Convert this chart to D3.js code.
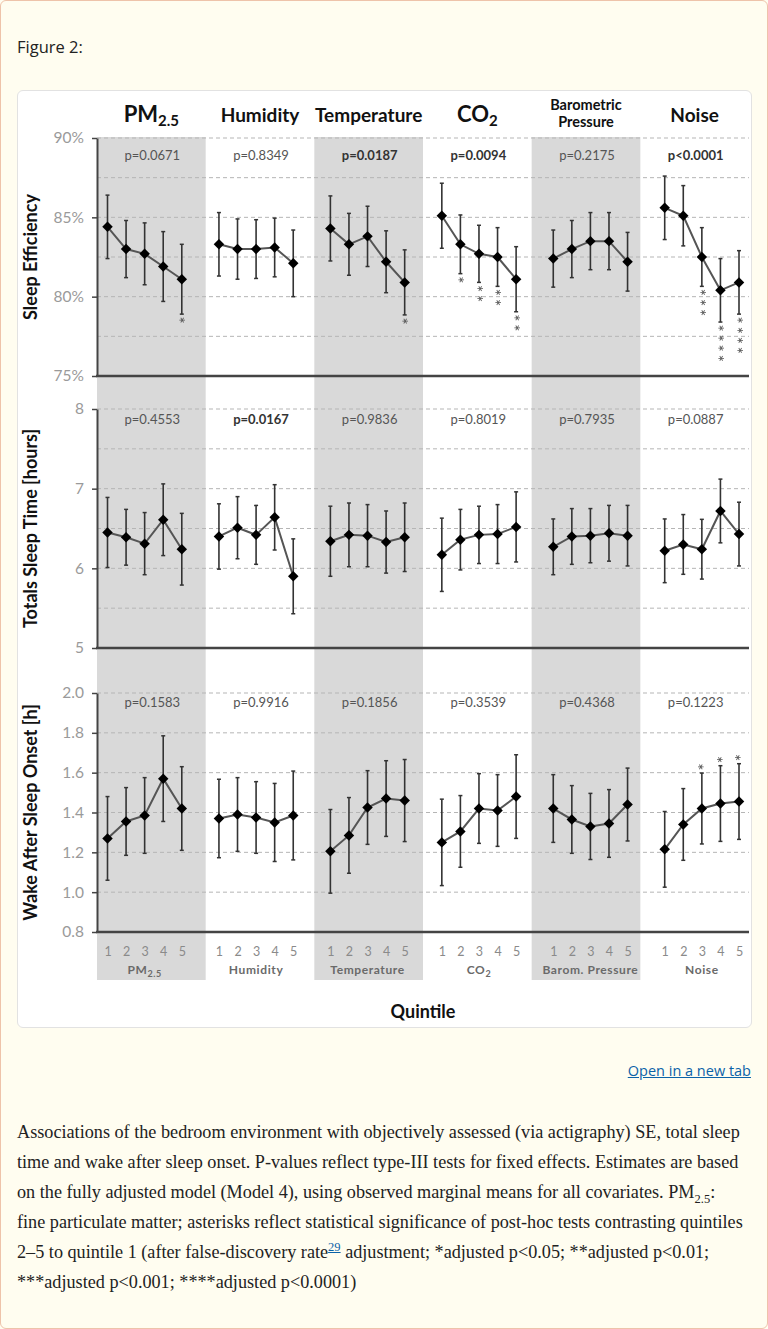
<!DOCTYPE html>
<html>
<head>
<meta charset="utf-8">
<script src="https://cdn.jsdelivr.net/npm/d3@7"></script>
<style>
  html, body { margin: 0; padding: 0; background: #fffdf0; }
  body { width: 768px; height: 1329px; position: relative; overflow: hidden; }
  .page { position: absolute; left: 0; top: 0; width: 766px; height: 1327px;
          border: 1px solid #eec3aa; border-radius: 6px; background: #fffdf0; }
  .figlabel { position: absolute; left: 17px; top: 35px; font-family: "Open Sans", sans-serif;
              font-size: 16.5px; color: #222; }
  .card { position: absolute; left: 17px; top: 90px; width: 733px; height: 936px;
          background: #fff; border: 1px solid #e2e2e2; border-radius: 6px; }
  svg { position: absolute; left: 0; top: 0; }
  .newtab { position: absolute; right: 17px; top: 1061px; font-family: "Open Sans", sans-serif;
            font-size: 14.5px; color: #0b62a8; text-decoration: underline; }
  .caption { position: absolute; left: 17px; top: 1117px; width: 745px; font-family: "Liberation Serif", serif;
             font-size: 18.2px; line-height: 30px; color: #222; }
  .caption div { white-space: nowrap; }
  .caption sub, .caption sup { font-size: 12.5px; line-height: 0; }
  .caption sup { color: #0b62a8; text-decoration: underline; }
  .star { filter: grayscale(100%); }
</style>
</head>
<body>
<div class="page"></div>
<div class="figlabel">Figure 2:</div>
<div class="card"></div>
<svg id="chart" width="768" height="1030"></svg>
<div class="newtab">Open in a new tab</div>
<div class="caption">
  <div>Associations of the bedroom environment with objectively assessed (via actigraphy) SE, total sleep</div>
  <div>time and wake after sleep onset. P-values reflect type-III tests for fixed effects. Estimates are based</div>
  <div>on the fully adjusted model (Model 4), using observed marginal means for all covariates. PM<sub>2.5</sub>:</div>
  <div>fine particulate matter; asterisks reflect statistical significance of post-hoc tests contrasting quintiles</div>
  <div>2–5 to quintile 1 (after false-discovery rate<sup>29</sup> adjustment; *adjusted p&lt;0.05; **adjusted p&lt;0.01;</div>
  <div>***adjusted p&lt;0.001; ****adjusted p&lt;0.0001)</div>
</div>
<script>
// groups (columns) and quintiles
const groups = ["PM2.5", "Humidity", "Temperature", "CO2", "Barometric Pressure", "Noise"];
const groupShort = ["PM2.5", "Humidity", "Temperature", "CO2", "Barom. Pressure", "Noise"];
const quintiles = [1, 2, 3, 4, 5];

// Sleep efficiency (%)
const seMean = [
  [84.4, 83.0, 82.7, 81.9, 81.1],
  [83.3, 83.0, 83.0, 83.1, 82.1],
  [84.3, 83.3, 83.8, 82.2, 80.9],
  [85.1, 83.3, 82.7, 82.5, 81.1],
  [82.4, 83.0, 83.5, 83.5, 82.2],
  [85.6, 85.1, 82.5, 80.4, 80.9]
];
const seErr = [
  [2.0, 1.8, 1.95, 2.2, 2.2],
  [2.0, 1.9, 1.85, 1.85, 2.1],
  [2.05, 1.95, 1.9, 1.95, 2.05],
  [2.05, 1.85, 1.8, 1.85, 2.05],
  [1.8, 1.8, 1.8, 1.8, 1.85],
  [2.0, 1.9, 1.85, 2.0, 2.0]
];
const seStars = [
  [0, 0, 0, 0, 1],
  [0, 0, 0, 0, 0],
  [0, 0, 0, 0, 1],
  [0, 1, 2, 2, 2],
  [0, 0, 0, 0, 0],
  [0, 0, 3, 4, 4]
];
const seP = ["p=0.0671", "p=0.8349", "p=0.0187", "p=0.0094", "p=0.2175", "p<0.0001"];
const seBold = [false, false, true, true, false, true];

// Total sleep time (hours)
const tstMean = [
  [6.45, 6.39, 6.31, 6.61, 6.24],
  [6.40, 6.51, 6.42, 6.64, 5.90],
  [6.34, 6.42, 6.41, 6.33, 6.39],
  [6.17, 6.36, 6.42, 6.43, 6.52],
  [6.27, 6.40, 6.41, 6.44, 6.41],
  [6.22, 6.30, 6.24, 6.72, 6.43]
];
const tstErr = [
  [0.44, 0.35, 0.39, 0.45, 0.45],
  [0.41, 0.39, 0.37, 0.41, 0.47],
  [0.44, 0.40, 0.39, 0.39, 0.43],
  [0.46, 0.38, 0.36, 0.37, 0.44],
  [0.35, 0.35, 0.34, 0.35, 0.38],
  [0.40, 0.375, 0.375, 0.40, 0.40]
];
const tstP = ["p=0.4553", "p=0.0167", "p=0.9836", "p=0.8019", "p=0.7935", "p=0.0887"];
const tstBold = [false, true, false, false, false, false];

// Wake after sleep onset (h)
const wasoMean = [
  [1.27, 1.355, 1.385, 1.57, 1.42],
  [1.37, 1.39, 1.375, 1.35, 1.385],
  [1.205, 1.285, 1.425, 1.47, 1.46],
  [1.25, 1.305, 1.42, 1.41, 1.48],
  [1.42, 1.365, 1.33, 1.345, 1.44],
  [1.215, 1.34, 1.42, 1.445, 1.455]
];
const wasoErr = [
  [0.21, 0.17, 0.19, 0.215, 0.21],
  [0.197, 0.185, 0.18, 0.196, 0.223],
  [0.21, 0.19, 0.185, 0.19, 0.206],
  [0.217, 0.18, 0.175, 0.18, 0.21],
  [0.17, 0.17, 0.166, 0.17, 0.183],
  [0.19, 0.18, 0.178, 0.19, 0.19]
];
const wasoStarsUp = [
  [0, 0, 0, 0, 0],
  [0, 0, 0, 0, 0],
  [0, 0, 0, 0, 0],
  [0, 0, 0, 0, 0],
  [0, 0, 0, 0, 0],
  [0, 0, 1, 1, 1]
];
const wasoP = ["p=0.1583", "p=0.9916", "p=0.1856", "p=0.3539", "p=0.4368", "p=0.1223"];
const wasoBold = [false, false, false, false, false, false];

const seTicks = [75, 80, 85, 90], seGrid = [77.5, 80, 82.5, 85, 87.5, 90];
const tstTicks = [5, 6, 7, 8], tstGrid = [5.5, 6, 6.5, 7, 7.5, 8];
const wasoTicks = [0.8, 1.0, 1.2, 1.4, 1.6, 1.8, 2.0], wasoGrid = [1.0, 1.2, 1.4, 1.6, 1.8, 2.0];

const FONT = "Lato, 'Open Sans', sans-serif";
const left = 97, right = 749;
const svg = d3.select("#chart");

// column shading
const xg = d3.scaleBand().domain(groups).range([left, right]);
svg.append("g").selectAll("rect")
  .data(groups.filter((d, i) => i % 2 === 0))
  .enter().append("rect")
  .attr("x", d => xg(d)).attr("y", 137)
  .attr("width", xg.bandwidth()).attr("height", 980 - 137)
  .attr("fill", "#d9d9d9");

// point positions: 5 quintiles per group + 1 empty slot between groups
const x = d3.scalePoint().domain(d3.range(35)).range([107.5, 739]);
const xi = (g, q) => x(g * 6 + q);

// headers
const hdr = svg.append("g").attr("font-family", FONT).attr("font-weight", "bold").attr("fill", "#111")
  .attr("text-anchor", "middle");
function subText(sel, main, sub, size, subSize, dy) {
  sel.append("tspan").attr("font-size", size).text(main);
  sel.append("tspan").attr("font-size", subSize).attr("dy", dy).text(sub);
}
groups.forEach((g, i) => {
  const cx = xg(g) + xg.bandwidth() / 2;
  if (g === "PM2.5") {
    hdr.append("text").attr("x", cx).attr("y", 122).call(subText, "PM", "2.5", 22, 15, 4);
  } else if (g === "CO2") {
    hdr.append("text").attr("x", cx).attr("y", 122).call(subText, "CO", "2", 22, 15, 4);
  } else if (g === "Barometric Pressure") {
    hdr.append("text").attr("x", cx).attr("y", 109.5).attr("font-size", 14.5).text("Barometric");
    hdr.append("text").attr("x", cx).attr("y", 127).attr("font-size", 14.5).text("Pressure");
  } else {
    hdr.append("text").attr("x", cx).attr("y", 122).attr("font-size", 19).text(g);
  }
});

// a vertical stack of asterisks, drawn as one rotated string
function stars(g, cx, y0, n, dir) {
  if (!n) return;
  g.append("text").attr("class", "star")
    .attr("transform", `translate(${cx},${y0}) rotate(${dir > 0 ? 90 : -90})`)
    .attr("x", -3.5).attr("y", 9.3)
    .attr("font-family", FONT).attr("font-size", 17).attr("letter-spacing", 2.8)
    .attr("fill", "#555").text("*".repeat(n));
}

function panel(opt) {
  const y = d3.scaleLinear().domain(opt.domain).range([opt.bottom, opt.top]);
  const g = svg.append("g");

  // dashed grid
  g.append("g").selectAll("line").data(opt.grid).enter().append("line")
    .attr("x1", left).attr("x2", right)
    .attr("y1", d => y(d)).attr("y2", d => y(d))
    .attr("stroke", "#b5b5b5").attr("stroke-width", 1).attr("stroke-dasharray", "4,3");

  // y axis
  const ax = g.append("g").attr("transform", `translate(${left},0)`)
    .call(d3.axisLeft(y).tickValues(opt.ticks).tickSize(5).tickSizeOuter(0).tickPadding(8).tickFormat(opt.fmt));
  ax.select(".domain").attr("stroke", "#444").attr("stroke-width", 2);
  ax.selectAll(".tick line").attr("stroke", "#444").attr("stroke-width", 1.5);
  ax.selectAll(".tick text").attr("font-family", FONT).attr("font-size", 15.5).attr("fill", "#9a9a9a");

  // bottom axis line
  g.append("line").attr("x1", left - 1).attr("x2", right)
    .attr("y1", y(opt.domain[0])).attr("y2", y(opt.domain[0]))
    .attr("stroke", "#444").attr("stroke-width", 2.5);

  // axis title
  g.append("text")
    .attr("transform", `translate(32,${(opt.top + opt.bottom) / 2}) rotate(-90)`)
    .attr("text-anchor", "middle").attr("dominant-baseline", "middle")
    .attr("font-family", FONT).attr("font-weight", "bold").attr("font-size", 18).attr("fill", "#111")
    .text(opt.title);

  // p-values
  groups.forEach((gr, i) => {
    g.append("text").attr("x", xg(gr) + xg.bandwidth() / 2 + 1).attr("y", opt.pY)
      .attr("text-anchor", "middle").attr("dominant-baseline", "middle")
      .attr("font-family", FONT).attr("font-size", 13)
      .attr("font-weight", opt.pBold[i] ? "bold" : "normal")
      .attr("fill", opt.pBold[i] ? "#333" : "#555")
      .text(opt.p[i]);
  });

  groups.forEach((gr, gi) => {
    const pts = quintiles.map((q, qi) => ({
      x: xi(gi, qi), m: opt.mean[gi][qi], e: opt.err[gi][qi],
      down: opt.starsDown ? opt.starsDown[gi][qi] : 0,
      up: opt.starsUp ? opt.starsUp[gi][qi] : 0
    }));
    // connecting line
    g.append("path").datum(pts)
      .attr("d", d3.line().x(d => d.x).y(d => y(d.m)))
      .attr("fill", "none").attr("stroke", "#555").attr("stroke-width", 2);
    // error bars
    const eb = g.append("g").selectAll("g").data(pts).enter().append("g").attr("stroke", "#333");
    eb.append("line").attr("x1", d => d.x).attr("x2", d => d.x)
      .attr("y1", d => y(d.m + d.e)).attr("y2", d => y(d.m - d.e)).attr("stroke-width", 1.6);
    eb.append("line").attr("x1", d => d.x - 2).attr("x2", d => d.x + 2)
      .attr("y1", d => y(d.m + d.e)).attr("y2", d => y(d.m + d.e)).attr("stroke-width", 1.5);
    eb.append("line").attr("x1", d => d.x - 2).attr("x2", d => d.x + 2)
      .attr("y1", d => y(d.m - d.e)).attr("y2", d => y(d.m - d.e)).attr("stroke-width", 1.5);
    // diamonds
    g.append("g").selectAll("path").data(pts).enter().append("path")
      .attr("d", d3.symbol(d3.symbolDiamond2, 70))
      .attr("transform", d => `translate(${d.x},${y(d.m)})`)
      .attr("fill", "#000");
    // significance stars (below for SE, above for WASO)
    pts.forEach(d => {
      stars(g, d.x, y(d.m - d.e) + 6, d.down, 1);
      stars(g, d.x, y(d.m + d.e) - 6, d.up, -1);
    });
  });
  return y;
}

panel({ domain: [75, 90], top: 138, bottom: 376, ticks: seTicks, grid: seGrid,
  fmt: d => d + "%", title: "Sleep Efficiency", mean: seMean, err: seErr, starsDown: seStars,
  p: seP, pBold: seBold, pY: 157 });
panel({ domain: [5, 8], top: 409, bottom: 648, ticks: tstTicks, grid: tstGrid,
  fmt: d3.format("d"), title: "Totals Sleep Time [hours]", mean: tstMean, err: tstErr,
  p: tstP, pBold: tstBold, pY: 421 });
panel({ domain: [0.8, 2.0], top: 693, bottom: 932, ticks: wasoTicks, grid: wasoGrid,
  fmt: d3.format(".1f"), title: "Wake After Sleep Onset [h]", mean: wasoMean, err: wasoErr,
  starsUp: wasoStarsUp, p: wasoP, pBold: wasoBold, pY: 704 });

// quintile tick numbers
const xa = svg.append("g").attr("transform", "translate(0,944)")
  .call(d3.axisBottom(x).tickValues(d3.range(35).filter(i => i % 6 !== 5)).tickSize(0)
    .tickFormat(i => quintiles[i % 6]));
xa.select(".domain").remove();
xa.selectAll(".tick text").attr("font-family", FONT).attr("font-size", 12.5).attr("fill", "#8a8a8a");

// group labels under the axis
const gl = svg.append("g").attr("font-family", FONT).attr("font-size", 12).attr("font-weight", "bold")
  .attr("fill", "#6a6a6a").attr("text-anchor", "middle").attr("letter-spacing", 0.6);
groupShort.forEach((g, i) => {
  const t = gl.append("text").attr("x", xi(i, 2)).attr("y", 974);
  if (g === "PM2.5") subText(t, "PM", "2.5", 12, 9, 3);
  else if (g === "CO2") subText(t, "CO", "2", 12, 9, 3);
  else t.text(g);
});

svg.append("text").attr("x", (left + right) / 2).attr("y", 1018).attr("text-anchor", "middle")
  .attr("font-family", FONT).attr("font-weight", "bold").attr("font-size", 18).attr("fill", "#111")
  .text("Quintile");
</script>
</body>
</html>
